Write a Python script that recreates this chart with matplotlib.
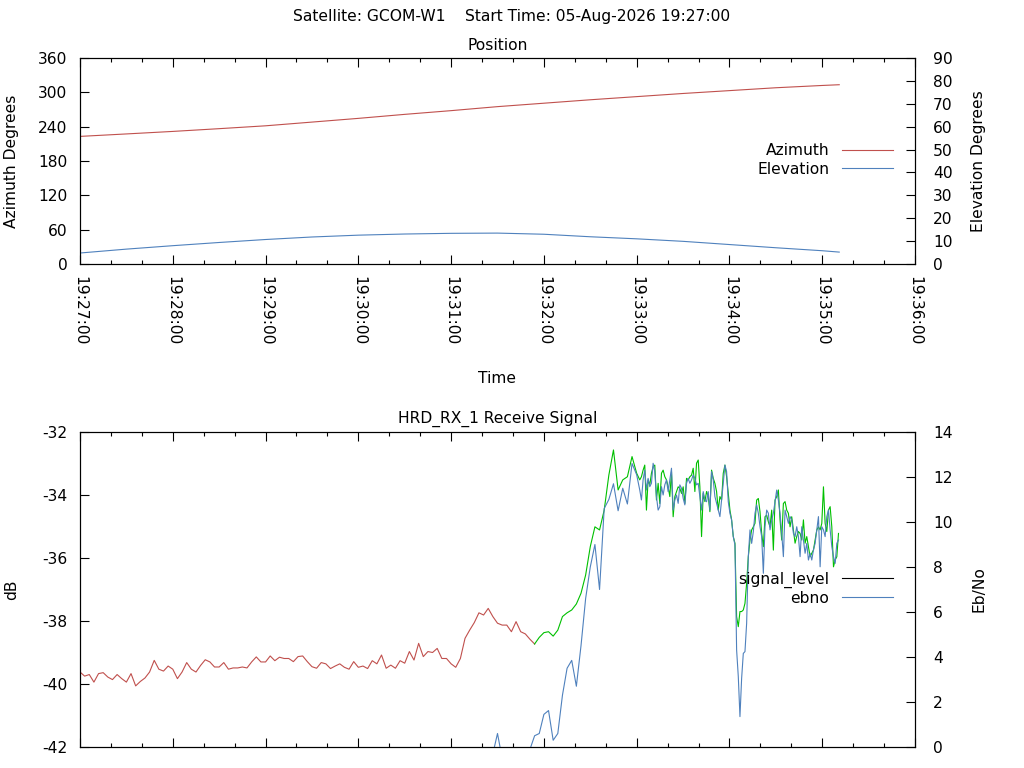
import datetime as dt
import numpy as np
import matplotlib
matplotlib.use('Agg')
import matplotlib.pyplot as plt
import matplotlib.dates as mdates
from matplotlib.lines import Line2D

plt.rcParams['font.family'] = ['DejaVu Sans']
plt.rcParams['font.size'] = 11.2
plt.rcParams['axes.unicode_minus'] = False

satellite = 'GCOM-W1'
start = dt.datetime(2026, 8, 5, 19, 27, 0)
end = dt.datetime(2026, 8, 5, 19, 36, 0)

# position samples (seconds after start)
pos_secs = [0, 30, 60, 90, 120, 150, 180, 210, 240, 270, 300, 330, 360, 390, 420, 450, 480, 491]
azimuth = [223.0, 227.3, 231.7, 236.5, 241.5, 248.0, 254.5, 261.5, 268.0, 275.0, 281.0, 287.0,
           292.5, 298.0, 303.0, 308.0, 312.0, 313.3]
elevation = [4.8, 6.5, 8.0, 9.4, 10.7, 11.8, 12.6, 13.1, 13.4, 13.5, 13.0, 11.9,
             11.0, 9.9, 8.5, 7.1, 5.8, 5.2]

# receiver: coarse samples every 3 s from start, then finer ones
coarse_step = 3
signal_coarse = [
    -39.62, -39.75, -39.70, -39.94, -39.67, -39.64, -39.78, -39.86, -39.70, -39.83,
    -39.94, -39.67, -40.06, -39.92, -39.81, -39.62, -39.25, -39.53, -39.59, -39.43,
    -39.53, -39.83, -39.62, -39.32, -39.53, -39.62, -39.41, -39.23, -39.30, -39.46,
    -39.46, -39.32, -39.53, -39.49, -39.49, -39.46, -39.49, -39.30, -39.14, -39.30,
    -39.30, -39.11,
    -39.26, -39.15, -39.19, -39.19, -39.29, -39.13, -39.11, -39.29, -39.45, -39.50,
    -39.32, -39.36, -39.51, -39.43, -39.36, -39.47, -39.53, -39.29, -39.47, -39.43,
    -39.51, -39.26, -39.36, -39.08, -39.50, -39.40, -39.50, -39.26, -39.34, -38.97,
    -39.24, -38.71, -39.13, -38.97, -39.00, -38.87, -39.19, -39.19,
    -39.36, -39.47, -39.19, -38.55, -38.29, -38.05, -37.74, -37.81, -37.60, -37.86,
    -38.07, -38.13, -38.13, -38.34, -38.02, -38.34, -38.41, -38.58, -38.73, -38.52,
    -38.37, -38.34, -38.48, -38.29, -37.86, -37.74, -37.65, -37.46, -37.12, -36.54,
    -35.64, -35.01, -35.11, -34.48, -33.37, -32.57, -33.84, -33.52, -33.42, -32.78,
    -33.31,
]
ebno_coarse_start = 264
ebno_coarse = [
    -0.5, -0.3, 0.6, -0.5, -0.8, -0.6, -0.5, -0.4, -0.3, -0.1,
    0.5, 0.6, 1.45, 1.62, 0.3, 0.6, 2.3, 3.5, 3.85, 2.7,
    4.5, 6.6, 8.0, 9.0, 7.0, 10.6, 11.0, 11.7, 10.5, 11.5,
    10.8, 12.6, 12.1,
]

fine_start = 362
fine_step = 1.08
signal_fine = [
    -33.52, -33.42, -33.21, -33.05, -34.48, -33.52, -33.68, -33.31, -33.10, -33.05,
    -34.16, -33.63, -34.27, -33.31, -33.21, -33.42, -33.52, -33.74, -34.05, -33.26,
    -34.69, -34.05, -33.89, -33.74, -33.79, -33.95, -33.74, -34.27, -33.47, -33.52,
    -33.42, -33.37, -33.15, -33.89, -32.99, -32.89, -33.74, -35.32, -33.95, -34.21,
    -33.89, -34.05, -34.53, -33.21, -33.47, -33.63, -33.89, -34.48, -34.05, -34.16,
    -33.31, -33.05, -33.42, -33.95, -34.48, -34.79, -35.32, -35.53, -37.86, -38.18,
    -37.70, -37.70, -37.65, -37.44, -36.80, -35.96, -35.43, -35.11, -35.01, -34.90,
    -34.16, -34.11, -34.53, -35.22, -35.64, -34.69, -34.64, -34.85, -35.01, -34.48,
    -35.75, -34.16, -34.05, -33.84, -34.79, -35.43, -34.27, -34.21, -34.48, -34.58,
    -35.01, -34.69, -35.11, -35.53, -35.32, -35.16, -35.22, -35.43, -34.79, -35.53,
    -35.32, -35.64, -35.96, -35.85, -35.75, -35.43, -35.11, -35.01, -35.11, -34.90,
    -33.74, -34.90, -35.16, -34.48, -34.37, -35.01, -36.28, -36.06, -35.96, -35.22,
]
ebno_fine = [
    11.42, 10.98, 11.87, 12.31, 11.42, 11.94, 11.57, 11.72, 12.61, 12.24,
    11.13, 10.53, 10.68, 11.57, 11.20, 11.65, 11.87, 11.35, 11.87, 12.39,
    10.53, 10.98, 11.20, 10.83, 11.65, 11.50, 11.05, 10.76, 11.72, 11.94,
    11.72, 11.87, 12.09, 11.94, 11.65, 11.72, 11.13, 10.53, 11.35, 10.98,
    10.90, 11.35, 10.53, 12.24, 11.87, 11.13, 10.83, 10.53, 10.24, 10.98,
    11.72, 12.53, 12.24, 10.90, 10.39, 10.09, 9.35, 8.98, 4.31, 3.13,
    1.35, 3.05, 4.16, 4.24, 5.50, 8.46, 9.65, 9.05, 9.57, 10.39,
    10.76, 10.39, 9.79, 9.35, 7.72, 9.79, 10.53, 10.39, 9.65, 10.09,
    10.39, 10.90, 11.42, 10.98, 10.39, 9.50, 8.46, 10.53, 10.24, 9.94,
    10.24, 10.09, 9.50, 9.35, 9.79, 9.35, 8.46, 9.79, 9.20, 8.61,
    9.05, 8.31, 8.61, 8.31, 8.76, 9.05, 9.65, 10.24, 8.01, 9.79,
    9.65, 9.35, 10.24, 10.53, 9.65, 8.91, 8.46, 8.16, 9.05, 9.20,
]
lock_start = 294  # seconds, receiver locked from here

RED = '#c0504d'
BLUE = '#4f81bd'
GREEN = '#00c000'


def to_time(secs):
    return np.array([start + dt.timedelta(seconds=float(s)) for s in secs])


def style_time_axis(ax, labels):
    ax.set_xlim(start, end)
    ax.xaxis.set_major_locator(mdates.MinuteLocator())
    ax.xaxis.set_minor_locator(mdates.SecondLocator(bysecond=[20, 40]))
    ax.xaxis.set_major_formatter(mdates.DateFormatter('%H:%M:%S'))
    ax.tick_params(axis='x', which='both', direction='in', top=True, bottom=True,
                   labelbottom=labels, pad=9)
    ax.tick_params(axis='x', which='major', length=6.5, width=0.8)
    ax.tick_params(axis='x', which='minor', length=3.2, width=0.8)
    if labels:
        for lab in ax.get_xticklabels():
            lab.set_rotation(-90)
            lab.set_ha('center')
            lab.set_va('top')


fig = plt.figure(figsize=(10.24, 7.68), dpi=100)
L, W = 80 / 1024, 835 / 1024
ax1 = fig.add_axes([L, 1 - 264 / 768, W, 206 / 768])
ax3 = fig.add_axes([L, 1 - 747 / 768, W, 315 / 768])

# ---- Position
pos_t = to_time(pos_secs)
ax1.plot(pos_t, azimuth, color=RED, lw=0.8)
ax1.set_ylim(0, 360)
ax1.set_yticks(range(0, 361, 60))
ax1.set_ylabel('Azimuth Degrees')
ax2 = ax1.twinx()
ax2.plot(pos_t, elevation, color=BLUE, lw=0.8)
ax2.set_ylim(0, 90)
ax2.set_yticks(range(0, 91, 10))
ax2.set_ylabel('Elevation Degrees')
style_time_axis(ax1, True)

leg_kw = dict(loc='center right', frameon=False, markerfirst=False, handlelength=3.3,
              handletextpad=0.8, labelspacing=0.2, borderaxespad=0)
h = [Line2D([], [], color=RED, lw=0.8), Line2D([], [], color=BLUE, lw=0.8)]
ax2.legend(h, ['Azimuth', 'Elevation'], bbox_to_anchor=(0.981, 0.505), **leg_kw)

# ---- Receive signal
fine_secs = fine_start + np.arange(len(signal_fine)) * fine_step
sig_secs = np.concatenate([np.arange(len(signal_coarse)) * coarse_step, fine_secs])
sig = np.array(signal_coarse + signal_fine)
sig_t = to_time(sig_secs)
pre = sig_secs <= lock_start
post = sig_secs >= lock_start
ax3.plot(sig_t[pre], sig[pre], color=RED, lw=0.8)
ax3.plot(sig_t[post], sig[post], color=GREEN, lw=0.8)
ax3.set_ylim(-42, -32)
ax3.set_yticks(range(-42, -31, 2))
ax3.set_ylabel('dB')

ax4 = ax3.twinx()
eb_secs = np.concatenate([ebno_coarse_start + np.arange(len(ebno_coarse)) * coarse_step,
                          fine_start + np.arange(len(ebno_fine)) * fine_step])
ax4.plot(to_time(eb_secs), ebno_coarse + ebno_fine, color=BLUE, lw=0.8)
ax4.set_ylim(0, 14)
ax4.set_yticks(range(0, 15, 2))
ax4.set_ylabel('Eb/No')
style_time_axis(ax3, False)

h = [Line2D([], [], color='black', lw=0.8), Line2D([], [], color=BLUE, lw=0.8)]
ax4.legend(h, ['signal_level', 'ebno'], bbox_to_anchor=(0.981, 0.503), **leg_kw)

for ax in (ax1, ax3):
    ax.tick_params(axis='y', direction='in', length=6.5, width=0.8, pad=9)
    ax.yaxis.set_label_coords(-0.0725, 0.5)
for ax in (ax2, ax4):
    ax.tick_params(axis='y', direction='in', length=6.5, width=0.8, pad=13)
    ax.yaxis.set_label_coords(1.0675, 0.5)
for ax in (ax1, ax2, ax3, ax4):
    for s in ax.spines.values():
        s.set_linewidth(0.8)

fig.text(0.5, 1 - 17 / 768, f'Satellite: {satellite}    Start Time: {start:%d-%b-%Y %H:%M:%S}',
         ha='center', va='center')
fig.text(497.5 / 1024, 1 - 46 / 768, 'Position', ha='center', va='center')
fig.text(497.5 / 1024, 1 - 379 / 768, 'Time', ha='center', va='center')
fig.text(497.5 / 1024, 1 - 419 / 768, 'HRD_RX_1 Receive Signal', ha='center', va='center')

fig.savefig('out.png', dpi=100)
